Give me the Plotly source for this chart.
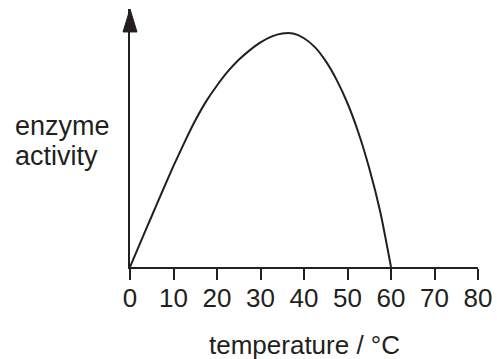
import plotly.graph_objects as go

# Data
temperature = [0, 2.5, 5, 7.5, 10, 12.5, 15, 17.5, 20, 22.5, 25, 27.5, 30, 32.5, 35, 37.5,
               40, 42.5, 45, 47.5, 50, 52.5, 55, 57.5, 60]
enzyme_activity = [0, 11.0, 21.8, 32.6, 43.2, 53.2, 62.6, 70.8, 77.6, 83.6, 88.6, 92.6, 96.0, 98.5, 99.8, 99.8,
                   97.8, 94.0, 88.0, 80.0, 70.0, 57.5, 42.2, 23.8, 0]
x_ticks = [0, 10, 20, 30, 40, 50, 60, 70, 80]
x_title = "temperature / °C"
y_title_lines = ["enzyme", "activity"]

ink = "#231f20"
font_family = "Liberation Sans, Arial, sans-serif"

fig = go.Figure()
fig.add_trace(go.Scatter(
    x=temperature, y=enzyme_activity, mode="lines",
    line=dict(color=ink, width=2, shape="spline", smoothing=0.7),
    hoverinfo="skip", showlegend=False,
))

annotations = [
    dict(text=x_title, xref="paper", yref="paper", x=0.5, y=0,
         xanchor="center", yanchor="middle", yshift=-78, showarrow=False,
         font=dict(size=26, color=ink, family=font_family)),
]
for i, line in enumerate(y_title_lines):
    annotations.append(dict(
        text=line, xref="paper", yref="paper", x=0, y=1,
        xanchor="left", yanchor="middle", xshift=-117, yshift=-(117 + 30 * i),
        showarrow=False, align="left",
        font=dict(size=27, color=ink, family=font_family)))

fig.update_layout(
    width=497, height=359,
    margin=dict(l=130, r=19, t=9, b=92),
    paper_bgcolor="white", plot_bgcolor="white",
    font=dict(family=font_family, size=26, color=ink),
    xaxis=dict(
        range=[0, 80], tickmode="array", tickvals=x_ticks,
        ticktext=[str(v) for v in x_ticks],
        showline=True, linecolor=ink, linewidth=2,
        ticks="outside", ticklen=11, tickwidth=2, tickcolor=ink,
        ticklabelstandoff=-4, automargin=False,
        showgrid=False, zeroline=False,
        tickfont=dict(size=26, color=ink, family=font_family),
    ),
    yaxis=dict(
        range=[0, 110.3], showline=True, linecolor=ink, linewidth=2,
        showticklabels=False, ticks="", showgrid=False, zeroline=False,
        automargin=False,
    ),
    shapes=[dict(
        type="path", xref="paper", yref="paper",
        path="M -0.0201,0.911 L 0.0201,0.911 L 0,1 Z",
        fillcolor=ink, line=dict(color=ink, width=1),
    )],
    annotations=annotations,
)

fig.write_html(
    "out.html",
    config={"displayModeBar": False},
    post_script="document.body.style.margin='0';document.body.style.padding='0';document.body.style.overflow='hidden';",
)
